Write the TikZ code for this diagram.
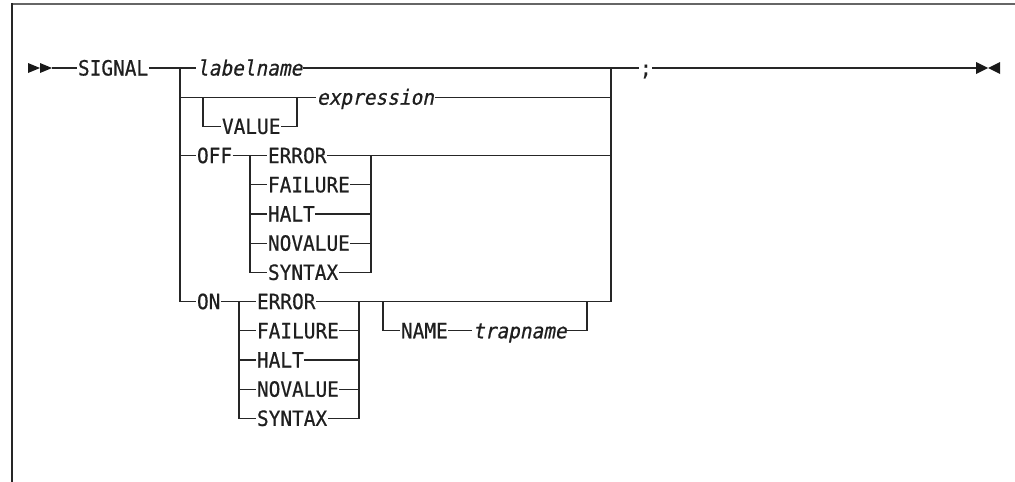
\documentclass[tikz,border=0pt]{standalone}
\usepackage{fontspec}
\newfontfamily\railfont[FakeStretch=0.925,FakeBold=0.6]{DejaVu Sans Mono}
\newfontfamily\railitfont[FakeStretch=0.925,FakeSlant=0.2,FakeBold=0.6]{DejaVu Sans Mono}
\begin{document}
\begin{tikzpicture}[x=1pt,y=-1pt,
  lbl/.style={font=\railfont\fontsize{21}{22}\selectfont, text=black!88, inner xsep=0.6pt, inner ysep=0pt, outer sep=0pt, text height=15pt, text depth=0pt, anchor=west},
  var/.style={lbl, font=\railitfont\fontsize{21}{22}\selectfont},
  rail/.style={line width=1.3pt, draw=black!85},
  tip/.style={fill=black!90},
  frame/.style={line width=2pt, draw=black!60}]
\useasboundingbox (0,0) rectangle (1015,482);
% frame
\draw[frame] (12,4) -- (1015,4);
\draw[frame, draw=black!85] (12,3) -- (12,482);
% texts
\node[lbl] (signal) at (77.4,68) {SIGNAL};
\node[var] (labelname) at (196.4,68) {labelname};
\node[var] (expr) at (316.4,97.2) {expression};
\node[lbl] (value) at (221.4,126.4) {VALUE};
\node[lbl] (off) at (196.4,155.6) {OFF};
\node[lbl] (offerr) at (267.4,155.6) {ERROR};
\node[lbl] (offfail) at (267.4,184.8) {FAILURE};
\node[lbl] (offhalt) at (267.4,214) {HALT};
\node[lbl] (offnov) at (267.4,243.2) {NOVALUE};
\node[lbl] (offsyn) at (267.4,272.4) {SYNTAX};
\node[lbl] (on) at (196.4,301.6) {ON};
\node[lbl] (onerr) at (256.4,301.6) {ERROR};
\node[lbl] (onfail) at (256.4,330.8) {FAILURE};
\node[lbl] (onhalt) at (256.4,360) {HALT};
\node[lbl] (onnov) at (256.4,389.2) {NOVALUE};
\node[lbl] (onsyn) at (256.4,418.4) {SYNTAX};
\node[lbl] (name) at (400.4,330.8) {NAME};
\node[var] (trap) at (472.4,330.8) {trapname};
\node[lbl] (semi) at (639.4,68) {;};
% junction coordinates
\coordinate (start) at (52,68);
\coordinate (b0) at (180,68);
\coordinate (b1) at (180,97.2);
\coordinate (b3) at (180,155.6);
\coordinate (b8) at (180,301.6);
\coordinate (m0) at (611,68);
\coordinate (m1) at (611,97.2);
\coordinate (m3) at (611,155.6);
\coordinate (m8) at (611,301.6);
\coordinate (vl) at (203,97.2);
\coordinate (vr) at (297,97.2);
\coordinate (ol) at (250,155.6);
\coordinate (or) at (371,155.6);
\coordinate (nl) at (239,301.6);
\coordinate (nr) at (359,301.6);
\coordinate (ql) at (383,301.6);
\coordinate (qr) at (587,301.6);
\coordinate (stop) at (976,68);
% start arrows
\fill[tip] (28,63) -- (40,68) -- (28,73) -- cycle;
\fill[tip] (40,63) -- (52,68) -- (40,73) -- cycle;
% main rail
\draw[rail] (start) -- (signal.west);
\draw[rail] (signal.east) -- (labelname.west);
\draw[rail] (labelname.east) -- (semi.west);
\draw[rail] (semi.east) -- (stop);
\draw[rail] (b0) -- (b8) -- (on.west);
\draw[rail] (m0) -- (m8);
% value / expression
\draw[rail] (b1) -- (expr.west);
\draw[rail] (expr.east) -- (m1);
\draw[rail] (vl) |- (value.west);
\draw[rail] (value.east) -| (vr);
% OFF
\draw[rail] (b3) -- (off.west);
\draw[rail] (off.east) -- (offerr.west);
\draw[rail] (offerr.east) -- (m3);
\draw[rail] (ol) |- (offsyn.west);
\draw[rail] (ol |- offfail.west) -- (offfail.west);
\draw[rail] (ol |- offhalt.west) -- (offhalt.west);
\draw[rail] (ol |- offnov.west) -- (offnov.west);
\draw[rail] (or) |- (offsyn.east);
\draw[rail] (or |- offfail.east) -- (offfail.east);
\draw[rail] (or |- offhalt.east) -- (offhalt.east);
\draw[rail] (or |- offnov.east) -- (offnov.east);
% ON
\draw[rail] (on.east) -- (onerr.west);
\draw[rail] (onerr.east) -- (m8);
\draw[rail] (nl) |- (onsyn.west);
\draw[rail] (nl |- onfail.west) -- (onfail.west);
\draw[rail] (nl |- onhalt.west) -- (onhalt.west);
\draw[rail] (nl |- onnov.west) -- (onnov.west);
\draw[rail] (nr) |- (onsyn.east);
\draw[rail] (nr |- onfail.east) -- (onfail.east);
\draw[rail] (nr |- onhalt.east) -- (onhalt.east);
\draw[rail] (nr |- onnov.east) -- (onnov.east);
% NAME trapname
\draw[rail] (ql) |- (name.west);
\draw[rail] (name.east) -- (trap.west);
\draw[rail] (trap.east) -| (qr);
% end arrows
\fill[tip] (976,62) -- (988,68) -- (976,74) -- cycle;
\fill[tip] (1000,62) -- (988,68) -- (1000,74) -- cycle;
\end{tikzpicture}
\end{document}
